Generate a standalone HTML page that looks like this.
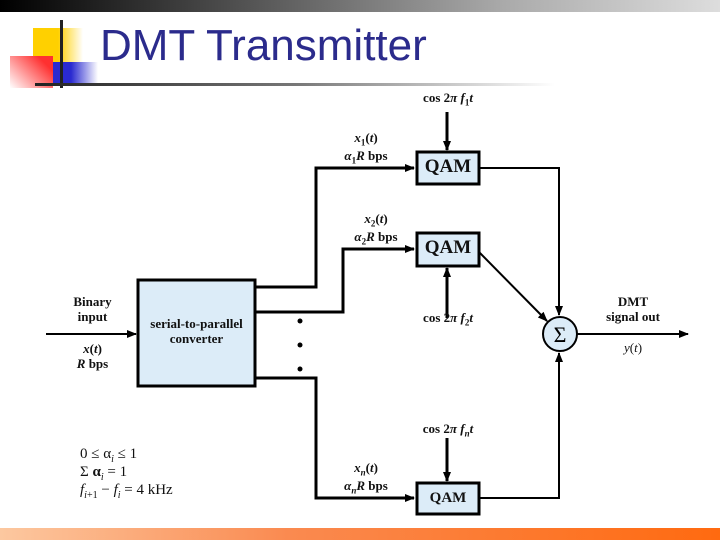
<!DOCTYPE html>
<html><head><style>
body{margin:0;width:720px;height:540px;overflow:hidden;background:#fff;position:relative;font-family:"Liberation Serif",serif}
.a{position:absolute}
.t{position:absolute;font-size:13px;font-weight:bold;text-align:center;line-height:15px;color:#111}
sub{line-height:0}
</style></head><body>
<div class="a" style="left:0;top:0;width:720px;height:12px;background:linear-gradient(90deg,#000,#555 35%,#aaa 70%,#ddd)"></div>
<div class="a" style="left:33px;top:28px;width:50px;height:34px;background:linear-gradient(90deg,#ffd000 50%,#fff)"></div>
<div class="a" style="left:53px;top:62px;width:45px;height:22px;background:linear-gradient(90deg,#2a2ad0 40%,#fff)"></div>
<div class="a" style="left:10px;top:56px;width:43px;height:32px;background:linear-gradient(45deg,#fff,#ff3030 80%)"></div>
<div class="a" style="left:60px;top:20px;width:3px;height:68px;background:#222"></div>
<div class="a" style="left:35px;top:83px;width:520px;height:3px;background:linear-gradient(90deg,#222,#777 50%,#fff)"></div>
<div class="a" style="left:100px;top:21px;font-family:'Liberation Sans',sans-serif;font-size:44px;color:#2b2b8c">DMT Transmitter</div>
<div class="a" style="left:0;top:528px;width:720px;height:12px;background:linear-gradient(90deg,#fcc8a0,#fa8a50 40%,#ff6a10)"></div>
<svg class="a" style="left:0;top:0" width="720" height="540">
<defs><marker id="m" markerWidth="10" markerHeight="8" refX="9" refY="4" orient="auto" markerUnits="userSpaceOnUse"><path d="M0,0L10,4L0,8z"/></marker></defs>
<g stroke="#000" stroke-width="3" fill="none">
<rect x="138" y="280" width="117" height="106" fill="#dcecf8"/>
<rect x="417" y="152" width="62" height="32" fill="#dcecf8"/>
<rect x="417" y="233" width="62" height="33" fill="#dcecf8"/>
<rect x="417" y="483" width="62" height="31" fill="#dcecf8"/>
<path d="M255,287H316V168H414" marker-end="url(#m)"/>
<path d="M255,312H343V249H414" marker-end="url(#m)"/>
<path d="M255,378H316V498H414" marker-end="url(#m)"/>
<path d="M447,112V150" marker-end="url(#m)"/>
<path d="M447,318V268" marker-end="url(#m)"/>
<path d="M447,438V481" marker-end="url(#m)"/>
</g>
<g stroke="#000" stroke-width="2" fill="none">
<path d="M46,334H136" marker-end="url(#m)"/>
<path d="M479,168H559V315" marker-end="url(#m)"/>
<path d="M479,252L547,321" marker-end="url(#m)"/>
<path d="M479,498H559V353" marker-end="url(#m)"/>
<path d="M577,334H688" marker-end="url(#m)"/>
<circle cx="560" cy="334" r="17" fill="#dcecf8"/>
</g>
<circle cx="300" cy="321" r="2.5"/><circle cx="300" cy="345" r="2.5"/><circle cx="300" cy="369" r="2.5"/>
<text x="560" y="342" font-size="22" text-anchor="middle" font-family="Liberation Serif">Σ</text>
</svg>
<div class="t" style="left:412px;top:157px;width:72px;font-size:19px;line-height:20px">QAM</div>
<div class="t" style="left:412px;top:238px;width:72px;font-size:19px;line-height:20px">QAM</div>
<div class="t" style="left:412px;top:490px;width:72px;font-size:15px;line-height:17px">QAM</div>
<div class="t" style="left:138px;top:316px;width:117px">serial-to-parallel<br>converter</div>
<div class="t" style="left:60px;top:294px;width:65px">Binary<br>input</div>
<div class="t" style="left:60px;top:341px;width:65px"><i>x</i>(<i>t</i>)<br><i>R</i> bps</div>
<div class="t" style="left:598px;top:294px;width:70px">DMT<br>signal out</div>
<div class="t" style="left:598px;top:340px;width:70px;font-weight:normal"><i>y</i>(<i>t</i>)</div>
<div class="t" style="left:398px;top:90px;width:100px">cos 2<i>π f</i><sub style="font-size:9px">1</sub><i>t</i></div>
<div class="t" style="left:398px;top:310px;width:100px">cos 2<i>π f</i><sub style="font-size:9px">2</sub><i>t</i></div>
<div class="t" style="left:398px;top:421px;width:100px">cos 2<i>π f<sub style="font-size:9px">n</sub>t</i></div>
<div class="t" style="left:330px;top:129px;width:72px;line-height:18px"><i>x</i><sub style="font-size:9px">1</sub>(<i>t</i>)<br><i>α</i><sub style="font-size:9px">1</sub><i>R</i> bps</div>
<div class="t" style="left:340px;top:210px;width:72px;line-height:18px"><i>x</i><sub style="font-size:9px">2</sub>(<i>t</i>)<br><i>α</i><sub style="font-size:9px">2</sub><i>R</i> bps</div>
<div class="t" style="left:330px;top:459px;width:72px;line-height:18px"><i>x<sub style="font-size:9px">n</sub></i>(<i>t</i>)<br><i>α<sub style="font-size:9px">n</sub>R</i> bps</div>
<div class="t" style="left:80px;top:445px;width:150px;text-align:left;font-weight:normal;font-size:15px;line-height:18px">0 ≤ α<sub style="font-size:10px"><i>i</i></sub> ≤ 1<br>Σ <b>α</b><sub style="font-size:10px"><i>i</i></sub> = 1<br><i>f</i><sub style="font-size:10px"><i>i</i>+1</sub> − <i>f<sub style="font-size:10px">i</sub></i> = 4 kHz</div>
</body></html>
